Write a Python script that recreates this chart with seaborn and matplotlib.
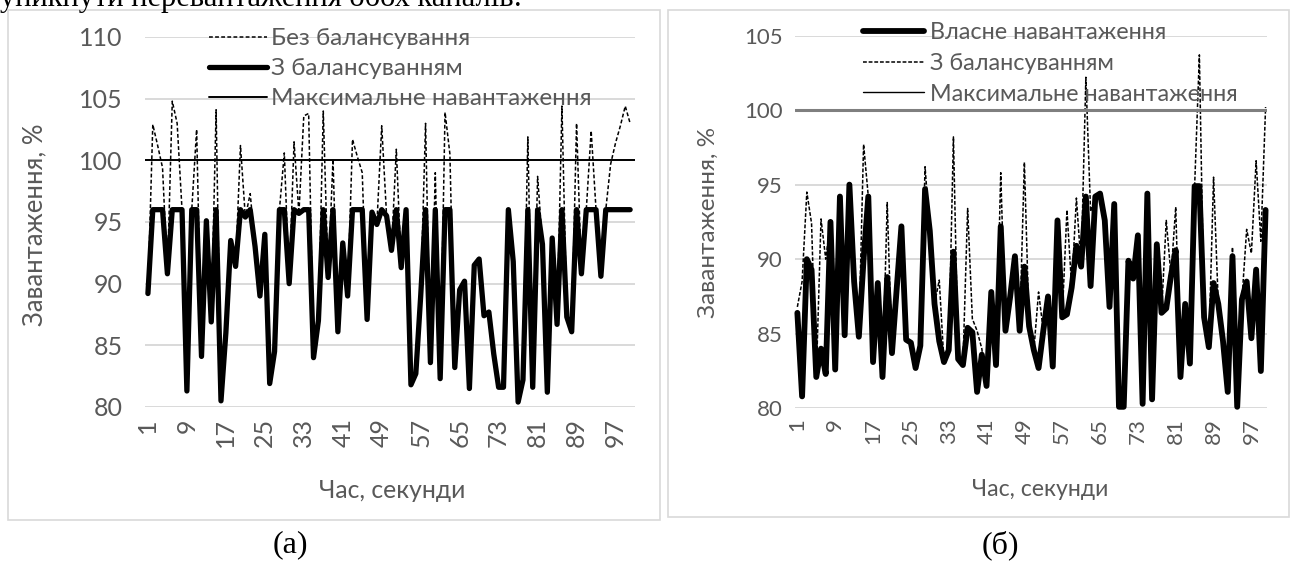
import matplotlib
matplotlib.use("Agg")
import matplotlib.pyplot as plt
from matplotlib.lines import Line2D
from matplotlib.patches import Rectangle
import pandas as pd
import seaborn as sns

# time axis (seconds) and the category labels Excel shows
seconds = list(range(1, 101))
tick_seconds = [1, 9, 17, 25, 33, 41, 49, 57, 65, 73, 81, 89, 97]
max_load = 100

# panel (a)
no_balance_a = [
    89.2, 102.9, 101.2, 99.4, 90.8, 104.8, 103.0, 96.0, 81.3, 96.0,
    102.5, 84.1, 95.1, 86.9, 104.1, 80.5, 86.0, 93.5, 91.4, 101.2,
    95.4, 97.3, 93.0, 89.0, 94.0, 81.9, 84.5, 96.0, 100.6, 90.0,
    101.5, 95.7, 103.6, 103.8, 84.0, 87.0, 104.0, 90.5, 100.1, 86.1,
    93.3, 89.0, 101.7, 100.3, 99.0, 87.1, 95.8, 94.8, 102.8, 95.5,
    92.7, 100.9, 91.3, 96.0, 81.8, 82.7, 89.0, 103.0, 83.6, 99.0,
    82.3, 103.9, 100.5, 83.2, 89.5, 90.2, 81.5, 91.5, 92.0, 87.4,
    87.7, 84.3, 81.6, 81.6, 96.0, 91.8, 80.4, 82.2, 101.9, 81.6,
    98.7, 93.2, 81.2, 93.7, 86.7, 104.4, 87.3, 86.1, 103.0, 90.8,
    96.0, 102.4, 96.0, 90.6, 96.0, 99.7, 101.4, 102.8, 104.4, 103.0,
]
balance_a = [
    89.2, 96.0, 96.0, 96.0, 90.8, 96.0, 96.0, 96.0, 81.3, 96.0,
    96.0, 84.1, 95.1, 86.9, 96.0, 80.5, 86.0, 93.5, 91.4, 96.0,
    95.4, 96.0, 93.0, 89.0, 94.0, 81.9, 84.5, 96.0, 96.0, 90.0,
    96.0, 95.7, 96.0, 96.0, 84.0, 87.0, 96.0, 90.5, 96.0, 86.1,
    93.3, 89.0, 96.0, 96.0, 96.0, 87.1, 95.8, 94.8, 96.0, 95.5,
    92.7, 96.0, 91.3, 96.0, 81.8, 82.7, 89.0, 96.0, 83.6, 96.0,
    82.3, 96.0, 96.0, 83.2, 89.5, 90.2, 81.5, 91.5, 92.0, 87.4,
    87.7, 84.3, 81.6, 81.6, 96.0, 91.8, 80.4, 82.2, 96.0, 81.6,
    96.0, 93.2, 81.2, 93.7, 86.7, 96.0, 87.3, 86.1, 96.0, 90.8,
    96.0, 96.0, 96.0, 90.6, 96.0, 96.0, 96.0, 96.0, 96.0, 96.0,
]

# panel (б)
own_load_b = [
    86.4, 80.8, 90.0, 89.3, 82.1, 84.0, 82.3, 92.5, 82.6, 94.2,
    84.9, 95.0, 88.5, 84.8, 90.0, 94.2, 83.1, 88.4, 82.1, 88.8,
    83.7, 88.0, 92.2, 84.6, 84.4, 82.7, 84.2, 94.7, 91.9, 87.0,
    84.5, 83.1, 83.9, 90.5, 83.3, 82.9, 85.4, 85.1, 81.1, 83.6,
    81.5, 87.8, 82.9, 92.2, 85.2, 87.5, 90.2, 85.2, 89.5, 85.5,
    83.9, 82.7, 85.2, 87.5, 82.8, 92.6, 86.1, 86.3, 88.1, 90.9,
    89.5, 94.2, 88.2, 94.2, 94.4, 92.6, 86.8, 93.7, 80.1, 80.1,
    89.9, 88.7, 91.6, 80.3, 94.4, 80.6, 91.0, 86.4, 86.7, 88.9,
    90.6, 82.1, 87.0, 83.0, 94.9, 94.9, 86.1, 84.1, 88.4, 87.0,
    84.5, 81.1, 90.2, 80.1, 87.3, 88.5, 84.7, 89.3, 82.5, 93.3,
]
balance_b = [
    86.8, 88.5, 94.5, 92.4, 82.1, 92.7, 90.0, 92.5, 82.6, 94.2,
    84.9, 95.0, 88.5, 84.8, 97.7, 94.2, 83.1, 88.4, 82.1, 93.8,
    83.7, 88.0, 92.2, 84.6, 84.4, 82.7, 84.2, 96.2, 91.9, 87.0,
    88.6, 83.1, 83.9, 98.2, 83.3, 82.9, 93.4, 86.0, 85.2, 84.0,
    81.5, 87.8, 82.9, 95.8, 85.2, 87.5, 90.2, 85.2, 96.5, 85.5,
    83.9, 87.8, 85.2, 87.5, 82.8, 92.6, 86.1, 93.3, 88.1, 94.1,
    89.5, 102.2, 93.2, 94.2, 94.4, 92.6, 86.8, 93.7, 80.1, 80.1,
    89.9, 88.7, 91.6, 80.3, 94.4, 80.6, 91.0, 86.4, 92.6, 88.9,
    93.5, 82.1, 87.0, 83.0, 94.9, 103.7, 86.1, 84.1, 95.5, 87.0,
    84.5, 81.1, 90.8, 80.1, 87.3, 92.0, 90.4, 96.6, 91.2, 100.2,
]

W, H = 1290, 563
GRAY = "#595959"
GRID = "#d9d9d9"

sns.set_theme(style="white")
plt.rcParams["font.family"] = ["Lato", "Noto Sans", "DejaVu Sans"]

fig = plt.figure(figsize=(W / 100, H / 100), dpi=100)


def px_axes(x0, x1, y_top, y_bot):
    return fig.add_axes([x0 / W, 1 - y_bot / H, (x1 - x0) / W, (y_bot - y_top) / H])


def style_axes(ax, ylim, yticks, xlim, fs, ypad, xpad):
    ax.set_ylim(*ylim)
    ax.set_xlim(*xlim)
    ax.set_yticks(yticks)
    ax.set_xticks(tick_seconds)
    ax.set_xticklabels([str(t) for t in tick_seconds], rotation=90)
    ax.grid(axis="y", color=GRID, lw=1.4)
    ax.grid(axis="x", visible=False)
    ax.set_axisbelow(True)
    for s in ax.spines.values():
        s.set_visible(False)
    ax.tick_params(length=0, labelsize=fs, labelcolor=GRAY)
    ax.tick_params(axis="y", pad=ypad)
    ax.tick_params(axis="x", pad=xpad)
    ax.set_xlabel("")
    ax.set_ylabel("")


# ---- panel (a)
ax_a = px_axes(145, 635, 37, 407)
df_a = pd.DataFrame({"t": seconds, "nb": no_balance_a, "b": balance_a})
sns.lineplot(data=df_a, x="t", y="nb", ax=ax_a, color="black", lw=1.1,
             linestyle=(0, (2.5, 1.5)), clip_on=False)
sns.lineplot(data=df_a, x="t", y="b", ax=ax_a, color="black", lw=3.8,
             clip_on=False)
ax_a.axhline(max_load, color="black", lw=1.4)
style_axes(ax_a, (80, 110), range(80, 111, 5), (0.4, 101), 18, 16, 8)

h_a = [Line2D([], [], color="black", lw=1.1, linestyle=(0, (2.5, 1.5))),
       Line2D([], [], color="black", lw=3.8),
       Line2D([], [], color="black", lw=1.4)]
ax_a.legend(h_a, ["Без балансування", "З балансуванням", "Максимальне навантаження"],
            loc="upper left", bbox_to_anchor=(209 / W, 1 - 28 / H),
            bbox_transform=fig.transFigure, frameon=False, fontsize=17.5,
            labelcolor=GRAY, handlelength=2.4, handletextpad=0.16,
            labelspacing=0.37, borderpad=0, borderaxespad=0)

# ---- panel (б)
ax_b = px_axes(795, 1267, 35.5, 408.3)
df_b = pd.DataFrame({"t": seconds, "own": own_load_b, "b": balance_b})
sns.lineplot(data=df_b, x="t", y="b", ax=ax_b, color="black", lw=1.1,
             linestyle=(0, (2.5, 1.2)), clip_on=False)
sns.lineplot(data=df_b, x="t", y="own", ax=ax_b, color="black", lw=4.2,
             clip_on=False)
ax_b.axhline(max_load, color="#7f7f7f", lw=2.2)
style_axes(ax_b, (80, 105), range(80, 106, 5), (0.5, 100.3), 16, 9, 7)

h_b = [Line2D([], [], color="black", lw=4.2),
       Line2D([], [], color="black", lw=1.1, linestyle=(0, (2.5, 1.2))),
       Line2D([], [], color="black", lw=1.0)]
ax_b.legend(h_b, ["Власне навантаження", "З балансуванням", "Максимальне навантаження"],
            loc="upper left", bbox_to_anchor=(863 / W, 1 - 22 / H),
            bbox_transform=fig.transFigure, frameon=False, fontsize=16.8,
            labelcolor=GRAY, handlelength=2.6, handletextpad=0.25,
            labelspacing=0.42, borderpad=0, borderaxespad=0)

# axis titles
fig.text(35 / W, 1 - 225 / H, "Завантаження, %", rotation=90, ha="center",
         va="center", fontsize=18.5, color=GRAY)
fig.text(392 / W, 1 - 490 / H, "Час, секунди", ha="center", va="center",
         fontsize=17.8, color=GRAY)
fig.text(708 / W, 1 - 222 / H, "Завантаження, %", rotation=90, ha="center",
         va="center", fontsize=17.5, color=GRAY)
fig.text(1040 / W, 1 - 490 / H, "Час, секунди", ha="center", va="center",
         fontsize=16.6, color=GRAY)

# chart frames
fig.add_artist(Rectangle((8 / W, 1 - 520 / H), 652 / W, 510 / H,
                         transform=fig.transFigure, fill=False,
                         edgecolor=GRID, lw=1.2))
fig.add_artist(Rectangle((668 / W, 1 - 517 / H), 621 / W, 507 / H,
                         transform=fig.transFigure, fill=False,
                         edgecolor=GRID, lw=1.2))

# captions and the cut-off line of document text above
serif = ["Liberation Serif", "DejaVu Serif"]
fig.text(290 / W, 1 - 545 / H, "(а)", ha="center", va="center",
         fontsize=23, family=serif, color="black")
fig.text(1000 / W, 1 - 545 / H, "(б)", ha="center", va="center",
         fontsize=23, family=serif, color="black")
fig.text(0, 1 - 6 / H, "уникнути перевантаження обох каналів:", ha="left",
         va="baseline", fontsize=22, family=serif, color="black")

fig.savefig("out.png", dpi=100)
